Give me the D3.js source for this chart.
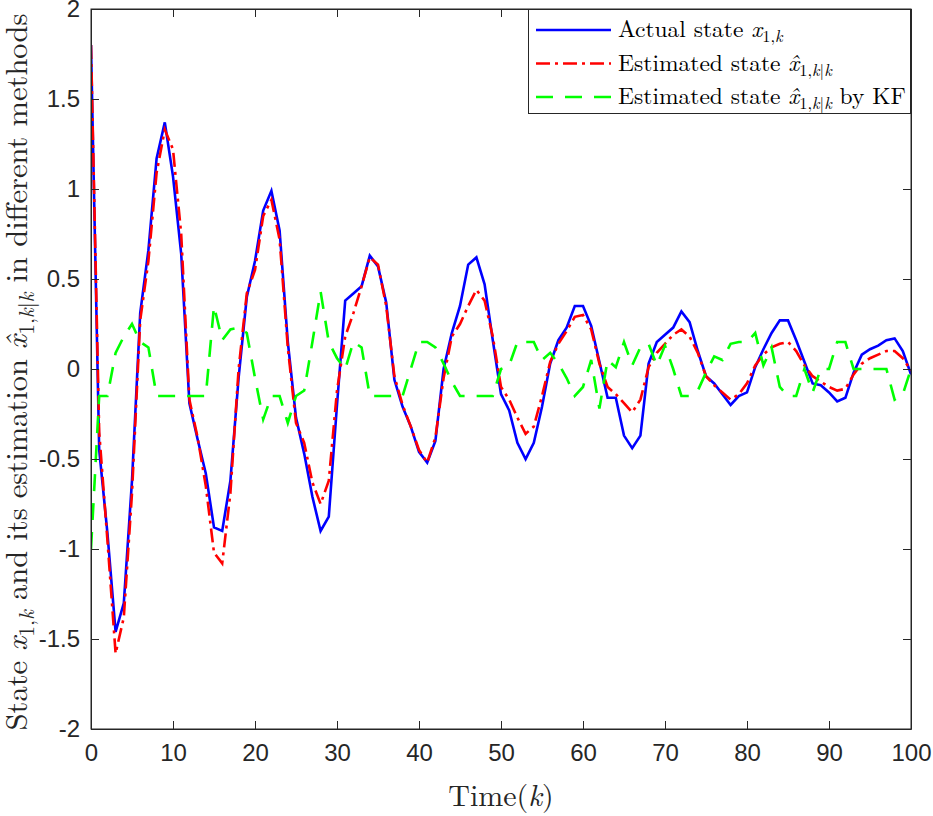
<!DOCTYPE html>
<html>
<head>
<meta charset="utf-8">
<script src="https://cdn.jsdelivr.net/npm/d3@7"></script>
<style>
  html, body { margin: 0; padding: 0; background: #fff; }
  svg { display: block; }
  .tick text { font-family: "Liberation Sans", Arial, sans-serif; fill: #262626; }
</style>
</head>
<body>
<svg id="chart" width="933" height="816"></svg>
<script>
// time steps 0..100
const steps = d3.range(0, 101);

// actual state x_{1,k}
const actualState = [
  1.8, -0.45, -0.91, -1.46, -1.3, -0.62, 0.31, 0.66, 1.17, 1.37,
  1.07, 0.64, -0.19, -0.39, -0.58, -0.88, -0.9, -0.62, -0.05, 0.4,
  0.6, 0.88, 0.99, 0.77, 0.15, -0.27, -0.47, -0.71, -0.9, -0.82,
  -0.2, 0.38, 0.42, 0.46, 0.63, 0.57, 0.37, -0.06, -0.21, -0.32,
  -0.46, -0.52, -0.4, 0.0, 0.2, 0.35, 0.58, 0.62, 0.47, 0.16,
  -0.14, -0.23, -0.41, -0.5, -0.41, -0.21, 0.03, 0.16, 0.23, 0.35,
  0.35, 0.24, 0.04, -0.16, -0.16, -0.37, -0.44, -0.37, 0.03, 0.15,
  0.19, 0.23, 0.32, 0.26, 0.1, -0.04, -0.08, -0.14, -0.2, -0.15,
  -0.13, 0.01, 0.11, 0.2, 0.27, 0.27, 0.16, 0.04, -0.08, -0.09,
  -0.13, -0.18, -0.16, -0.02, 0.08, 0.11, 0.13, 0.16, 0.17, 0.1,
  -0.03
];

// estimated state (proposed method)
const estimatedState = [
  1.8, -0.35, -0.95, -1.58, -1.38, -0.69, 0.27, 0.6, 1.09, 1.33,
  1.22, 0.75, -0.17, -0.38, -0.65, -1.02, -1.08, -0.69, 0.0, 0.42,
  0.55, 0.85, 0.94, 0.72, 0.12, -0.3, -0.41, -0.63, -0.75, -0.62,
  -0.12, 0.18, 0.31, 0.46, 0.62, 0.58, 0.35, -0.04, -0.2, -0.32,
  -0.45, -0.52, -0.38, -0.05, 0.18, 0.25, 0.35, 0.44, 0.38, 0.18,
  -0.1, -0.17, -0.27, -0.36, -0.32, -0.15, 0.04, 0.14, 0.21, 0.29,
  0.3, 0.22, 0.03, -0.1, -0.14, -0.19, -0.24, -0.17, 0.01, 0.09,
  0.14, 0.19, 0.22, 0.18, 0.09, -0.04, -0.09, -0.13, -0.17, -0.14,
  -0.08, 0.02, 0.08, 0.12, 0.14, 0.15, 0.1, 0.02, -0.04, -0.07,
  -0.1, -0.12, -0.11, -0.03, 0.03, 0.06, 0.08, 0.1, 0.1, 0.06,
  -0.01
];

// estimated state by KF
const kfState = [
  -1.0, -0.15, -0.15, 0.09, 0.18, 0.25, 0.15, 0.12, -0.15, -0.15,
  -0.15, -0.15, -0.15, -0.15, -0.15, 0.35, 0.16, 0.22, 0.23, 0.2,
  -0.05, -0.28, -0.15, -0.15, -0.3, -0.15, -0.12, 0.15, 0.43, 0.15,
  0.06, 0.0, 0.15, 0.12, -0.15, -0.15, -0.15, -0.15, -0.15, 0.0,
  0.15, 0.15, 0.12, 0.03, -0.07, -0.15, -0.15, -0.15, -0.15, -0.15,
  0.0, 0.02, 0.15, 0.15, 0.15, 0.05, 0.09, 0.03, -0.05, -0.15,
  -0.1, 0.05, -0.22, 0.05, 0.01, 0.15, 0.02, 0.12, 0.14, 0.02,
  0.13, 0.0, -0.15, -0.15, -0.12, -0.02, 0.07, 0.05, 0.14, 0.15,
  0.15, 0.2, 0.02, 0.12, -0.1, -0.15, -0.15, 0.0, -0.13, 0.0,
  0.0, 0.15, 0.15, 0.0, 0.0, 0.0, 0.0, 0.0, -0.17, -0.14,
  0.0
];

const xTicks = d3.range(0, 101, 10);
const yTicks = [-2, -1.5, -1, -0.5, 0, 0.5, 1, 1.5, 2];

const series = [
  { name: "actual", values: actualState, color: "#0000ff", dash: null },
  { name: "est", values: estimatedState, color: "#ff0000", dash: "14,5,3,5" },
  { name: "kf", values: kfState, color: "#00ff00", dash: "17,12" }
];

const svg = d3.select("#chart");
const box = { left: 91, right: 911, top: 9, bottom: 729 };
const axisColor = "#262626";

const x = d3.scaleLinear().domain([0, 100]).range([box.left, box.right]);
const y = d3.scaleLinear().domain([-2, 2]).range([box.bottom, box.top]);

// lines
const line = d3.line().x((d, i) => x(steps[i])).y(d => y(d));

const plot = svg.append("g");
plot.append("defs").append("clipPath").attr("id", "clip")
  .append("rect").attr("x", box.left).attr("y", box.top)
  .attr("width", box.right - box.left).attr("height", box.bottom - box.top);

plot.selectAll("path.series")
  .data(series)
  .join("path")
  .attr("class", "series")
  .attr("clip-path", "url(#clip)")
  .attr("d", d => line(d.values))
  .attr("fill", "none")
  .attr("stroke", d => d.color)
  .attr("stroke-width", 2.6)
  .attr("stroke-dasharray", d => d.dash);

// axes, ticks pointing inward on all four sides
function styleAxis(g) {
  g.select(".domain").attr("stroke", axisColor);
  g.selectAll(".tick line").attr("stroke", axisColor);
}

svg.append("g")
  .attr("transform", `translate(0,${box.bottom})`)
  .call(d3.axisBottom(x).tickValues(xTicks).tickSize(-8).tickPadding(15).tickSizeOuter(0))
  .call(styleAxis)
  .call(g => g.selectAll("text").attr("font-size", 24));

svg.append("g")
  .attr("transform", `translate(${box.left},0)`)
  .call(d3.axisLeft(y).tickValues(yTicks).tickSize(-8).tickPadding(11).tickSizeOuter(0)
    .tickFormat(d => String(d)))
  .call(styleAxis)
  .call(g => g.selectAll("text").attr("font-size", 24));

svg.append("g")
  .attr("transform", `translate(0,${box.top})`)
  .call(d3.axisTop(x).tickValues(xTicks).tickSize(-8).tickFormat("").tickSizeOuter(0))
  .call(styleAxis);

svg.append("g")
  .attr("transform", `translate(${box.right},0)`)
  .call(d3.axisRight(y).tickValues(yTicks).tickSize(-8).tickFormat("").tickSizeOuter(0))
  .call(styleAxis);

// LaTeX-like text helper
const serif = '"Latin Modern Roman", "Liberation Serif", "Times New Roman", serif';
function mathText(sel, parts, size) {
  let shifted = false;
  parts.forEach(p => {
    const t = sel.append("tspan").text(p.t);
    if (p.i) t.attr("font-style", "italic");
    if (p.sub) {
      t.attr("font-size", size * 0.7);
      if (!shifted) { t.attr("dy", size * 0.22); shifted = true; }
    } else {
      t.attr("font-size", size);
      if (shifted) { t.attr("dy", -size * 0.22); shifted = false; }
    }
  });
}

const subK = [{ t: "1,", sub: true }, { t: "k", sub: true, i: true }];
const subKK = [{ t: "1,", sub: true }, { t: "k", sub: true, i: true },
  { t: "|", sub: true }, { t: "k", sub: true, i: true }];

// x-axis title
mathText(svg.append("text")
  .attr("x", (box.left + box.right) / 2).attr("y", 806)
  .attr("text-anchor", "middle")
  .attr("font-family", serif).attr("fill", axisColor),
  [{ t: "Time(" }, { t: "k", i: true }, { t: ")" }], 30);

// y-axis title
mathText(svg.append("text")
  .attr("transform", `translate(27,${(box.top + box.bottom) / 2 + 3}) rotate(-90)`)
  .attr("text-anchor", "middle")
  .attr("font-family", serif).attr("fill", axisColor),
  [{ t: "State " }, { t: "x", i: true }, ...subK,
   { t: " and its estimation " }, { t: "x\u0302", i: true }, ...subKK,
   { t: " in different methods" }], 30.5);

// legend
const legendLabels = [
  [{ t: "Actual state " }, { t: "x", i: true }, ...subK],
  [{ t: "Estimated state " }, { t: "x\u0302", i: true }, ...subKK],
  [{ t: "Estimated state " }, { t: "x\u0302", i: true }, ...subKK, { t: " by KF" }]
];

const lg = svg.append("g");
lg.append("rect")
  .attr("x", 528.5).attr("y", 9.5).attr("width", 382).attr("height", 104)
  .attr("fill", "#fff").attr("stroke", axisColor).attr("stroke-width", 1);

const rowY = d3.scalePoint().domain(d3.range(series.length)).range([30, 97]);
series.forEach((s, i) => {
  lg.append("line")
    .attr("x1", 536).attr("x2", 611)
    .attr("y1", rowY(i)).attr("y2", rowY(i))
    .attr("stroke", s.color).attr("stroke-width", 2.6)
    .attr("stroke-dasharray", s.dash);
  mathText(lg.append("text")
    .attr("x", 618).attr("y", rowY(i) + 7)
    .attr("font-family", serif).attr("fill", "#000"),
    legendLabels[i], 23.5);
});

// plot box
svg.append("rect")
  .attr("x", box.left).attr("y", box.top)
  .attr("width", box.right - box.left).attr("height", box.bottom - box.top)
  .attr("fill", "none").attr("stroke", axisColor).attr("stroke-width", 1);
</script>
</body>
</html>
